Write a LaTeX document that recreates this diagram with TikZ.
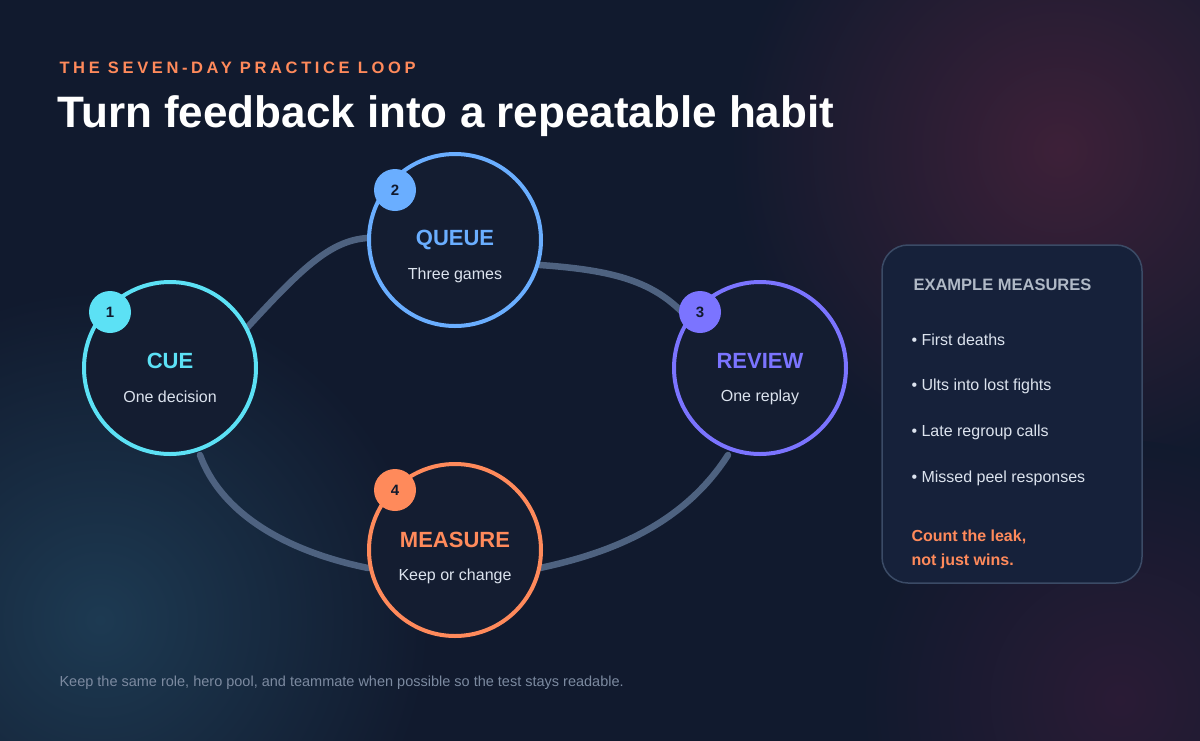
\documentclass[tikz,border=0pt]{standalone}
\usepackage{fontspec}
\setmainfont{Liberation Sans}
\usetikzlibrary{calc}
\definecolor{bg}{HTML}{111A2E}
\definecolor{glowr}{HTML}{3D2038}
\definecolor{glowt}{HTML}{1D3A52}
\definecolor{glowp}{HTML}{2A1B35}
\definecolor{cyanc}{HTML}{5CE1F5}
\definecolor{bluec}{HTML}{6AAEFF}
\definecolor{violc}{HTML}{7B74FF}
\definecolor{orc}{HTML}{FF8A5B}
\definecolor{link}{HTML}{4E6280}
\definecolor{fillc}{HTML}{141D31}
\definecolor{sub}{HTML}{DCE3EE}
\definecolor{panelf}{HTML}{16213A}
\definecolor{panelb}{HTML}{3B4B66}
\definecolor{muted}{HTML}{7C8AA0}
\begin{document}
\begin{tikzpicture}[x=1pt,y=-1pt,
  stage/.style={circle,line width=4pt,fill=fillc,minimum size=172pt,inner sep=0pt},
  badge/.style={circle,minimum size=42pt,inner sep=0pt,font=\fontsize{15}{15}\selectfont\bfseries,text=bg},
  ttl/.style={font=\fontsize{22}{22}\selectfont\bfseries},
  st/.style={font=\fontsize{16}{16}\selectfont,text=sub},
  lk/.style={draw=link,line width=6.5pt,line cap=round},
  item/.style={anchor=west,font=\fontsize{16}{16}\selectfont,text=sub}]
\useasboundingbox (0,0) rectangle (1200,740);
\fill[bg] (-3,-3) rectangle (1203,743);
\begin{scope}
\clip (-3,-3) rectangle (1203,743);
\shade[inner color=glowr,outer color=bg] (1060,150) circle (330);
\shade[inner color=glowt,outer color=bg] (100,620) circle (330);
\shade[inner color=glowp,outer color=bg] (1120,700) circle (260);
\end{scope}
\node[anchor=west,text=orc,font=\fontsize{16.5}{16}\selectfont\bfseries\addfontfeature{LetterSpace=22}] (kicker) at (56,68) {THE SEVEN-DAY PRACTICE LOOP};
\node[anchor=west,text=white,font=\fontsize{44}{44}\selectfont\bfseries] (title) at (54,116) {Turn feedback into a repeatable habit};
% connectors
\coordinate (a1) at (245,330); \coordinate (a2) at (368,238);
\coordinate (b1) at (540,265); \coordinate (b2) at (682,312);
\coordinate (c1) at (728,455); \coordinate (c2) at (540,568);
\coordinate (d1) at (368,568); \coordinate (d2) at (200,455);
\draw[lk] (a1) .. controls (300,270) and (330,240) .. (a2);
\draw[lk] (b1) .. controls (610,270) and (650,280) .. (b2);
\draw[lk] (c1) .. controls (680,530) and (600,555) .. (c2);
\draw[lk] (d1) .. controls (280,550) and (220,510) .. (d2);
% stages
\node[stage,draw=cyanc] (cue) at (170,368) {};
\node[stage,draw=bluec] (queue) at (455,240) {};
\node[stage,draw=violc] (review) at (760,368) {};
\node[stage,draw=orc] (measure) at (455,550) {};
\node[ttl,text=cyanc] (cuet) at (170,361) {CUE};
\node[st] (cues) at (170,397) {One decision};
\node[ttl,text=bluec] (queuet) at (455,240) {QUEUE};
\node[st] (queues) at (455,275) {Three games};
\node[ttl,text=violc] (reviewt) at (760,361) {REVIEW};
\node[st] (reviews) at (760,397) {One replay};
\node[ttl,text=orc] (measuret) at (455,540) {MEASURE};
\node[st] (measures) at (455,576) {Keep or change};
\node[badge,fill=cyanc] (n1) at (110,312) {1};
\node[badge,fill=bluec] (n2) at (395,190) {2};
\node[badge,fill=violc] (n3) at (700,312) {3};
\node[badge,fill=orc] (n4) at (395,490) {4};
% panel
\draw[fill=panelf,draw=panelb,line width=1.5pt,rounded corners=26pt] (882,245) rectangle (1142,583);
\node[anchor=west,text=muted!60!white,font=\fontsize{16.5}{16}\selectfont\bfseries] (ph) at (910,285) {EXAMPLE MEASURES};
\node[item] (i1) at (908,340) {• First deaths};
\node[item] (i2) at (908,386) {• Ults into lost fights};
\node[item] (i3) at (908,432) {• Late regroup calls};
\node[item] (i4) at (908,478) {• Missed peel responses};
\node[anchor=north west,align=left,text=orc,font=\fontsize{16}{24}\selectfont\bfseries] (pc) at (908,526) {Count the leak,\\not just wins.};
\node[anchor=west,text=muted,font=\fontsize{14.5}{14}\selectfont] (foot) at (56,683) {Keep the same role, hero pool, and teammate when possible so the test stays readable.};
\end{tikzpicture}
\end{document}
